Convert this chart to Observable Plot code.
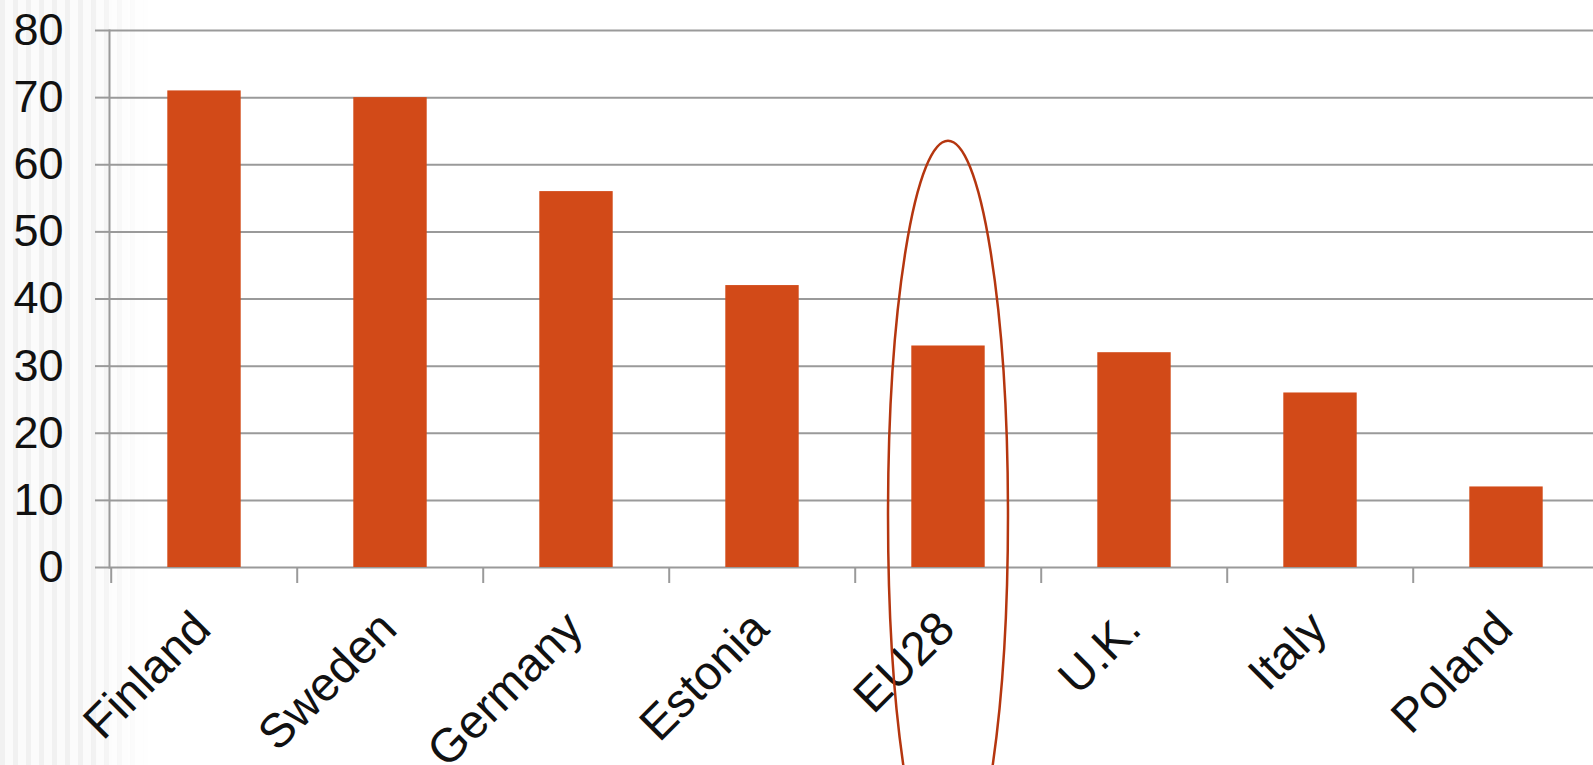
<!DOCTYPE html>
<html>
<head>
<meta charset="utf-8">
<script src="https://cdn.jsdelivr.net/npm/d3@7"></script>
<script src="https://cdn.jsdelivr.net/npm/@observablehq/plot@0.6"></script>
<style>
  html, body { margin: 0; padding: 0; background: #fff; overflow: hidden; }
  #wrap { position: relative; width: 1593px; height: 765px; }
  #stripes { position: absolute; left: 0; top: 0; width: 150px; height: 765px;
    background: repeating-linear-gradient(90deg, #f1f1f1 0px, #f1f1f1 5px, #fbfbfb 5px, #fbfbfb 13px);
    -webkit-mask-image: linear-gradient(90deg, #000 60%, transparent 100%);
    mask-image: linear-gradient(90deg, #000 60%, transparent 100%); }
  #chart { position: absolute; left: 0; top: 0; }
</style>
</head>
<body>
<div id="wrap"><div id="stripes"></div><div id="chart"></div></div>
<script>
const categories = ["Finland", "Sweden", "Germany", "Estonia", "EU28", "U.K.", "Italy", "Poland"];
const values = [71, 70, 56, 42, 33, 32, 26, 12];
const yTicks = [0, 10, 20, 30, 40, 50, 60, 70, 80];
const highlightCategory = "EU28";
const highlightTop = 63.5;
const highlightMiddle = 7.7;
const highlightWidthFrac = 0.645;

const data = categories.map((c, i) => ({country: c, value: values[i]}));

const W = 1593, H = 765;
const xRange = [109, 1601.6];
const bw = (xRange[1] - xRange[0]) / categories.length;
const gray = "#9a9a9a";

const chart = Plot.plot({
  width: W,
  height: H,
  marginTop: 30,
  marginBottom: 198,
  marginLeft: 109,
  marginRight: 0,
  style: {fontFamily: "'Liberation Sans', Arial, sans-serif", fontSize: "44px", background: "transparent", color: "#111", overflow: "hidden"},
  x: {domain: categories, range: xRange, padding: 0},
  y: {domain: [0, 80]},
  marks: [
    Plot.gridY(yTicks, {stroke: gray, strokeOpacity: 1, strokeWidth: 2}),
    Plot.axisY(yTicks, {tickSize: 14, tickPadding: 32, stroke: gray, strokeWidth: 2, fill: "#111", fontSize: 45, label: null}),
    Plot.frame({anchor: "left", stroke: gray, strokeWidth: 2}),
    Plot.barY(data, {x: "country", y: "value", fill: "#D24A18", insetLeft: 56.3, insetRight: 56.3}),
    Plot.axisX(categories, {tickSize: 16, tickFormat: () => "", dx: -bw / 2, stroke: gray, strokeWidth: 2, label: null}),
    Plot.text(categories, {x: d => d, frameAnchor: "bottom", rotate: -45, textAnchor: "end", lineAnchor: "middle", dx: -2, dy: 53, fontSize: 47.5, fill: "#111"})
  ]
});

// annotation ellipse placed through the plot's own scales
const sx = chart.scale("x");
const sy = chart.scale("y");
const cx = sx.apply(highlightCategory) + sx.bandwidth / 2;
const cy = sy.apply(highlightMiddle);
const ry = cy - sy.apply(highlightTop);
const rx = sx.bandwidth * highlightWidthFrac / 2;
d3.select(chart).append("ellipse")
  .attr("cx", cx).attr("cy", cy).attr("rx", rx).attr("ry", ry)
  .attr("fill", "none").attr("stroke", "#b5360f").attr("stroke-width", 2.5);

document.getElementById("chart").appendChild(chart);
</script>
</body>
</html>
